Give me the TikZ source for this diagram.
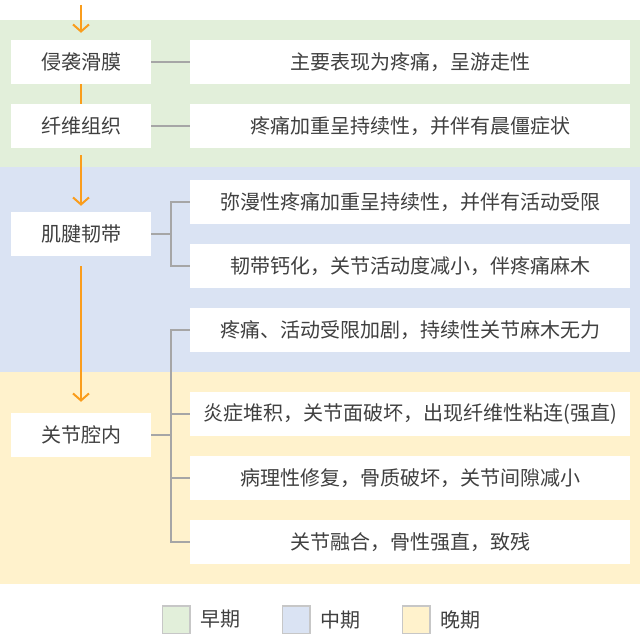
\documentclass[tikz,border=0pt]{standalone}
\usepackage{fontspec}
\setmainfont{Noto Sans CJK SC}
\usetikzlibrary{arrows.meta,positioning}
\definecolor{early}{HTML}{E2EFDA}
\definecolor{middle}{HTML}{DAE3F3}
\definecolor{late}{HTML}{FFF2CC}
\definecolor{flow}{HTML}{FA9D1C}
\definecolor{link}{HTML}{A6A6A6}
\definecolor{txt}{HTML}{404040}

\begin{document}
\begin{tikzpicture}[x=1pt,y=-1pt,
  every node/.style={font=\fontsize{20}{24}\selectfont, text=txt},
  stage/.style={fill=white, minimum width=140pt, minimum height=44pt, inner sep=0pt},
  sign/.style={fill=white, minimum width=440pt, minimum height=44pt, inner sep=0pt},
  flowline/.style={flow, line width=2pt},
  flowarrow/.style={flowline, -{Straight Barb[length=7pt,width=16pt]}},
  linkline/.style={link, line width=2pt},
  legbox/.style={draw=black!22, line width=1.5pt, minimum size=27.5pt, inner sep=0pt}]

\useasboundingbox (0,0) rectangle (640,636);

% bands
\fill [early] (0,20) rectangle (640,167);
\fill [middle] (0,167) rectangle (640,372);
\fill [late] (0,372) rectangle (640,584);

% stages
\node [stage] (s1) at (81,62) {侵袭滑膜};
\node [stage] (s2) at (81,126) {纤维组织};
\node [stage] (s3) at (81,234) {肌腱韧带};
\node [stage] (s4) at (81,435) {关节腔内};

% signs
\node [sign] (r1) at (410,62) {主要表现为疼痛，呈游走性};
\node [sign] (r2) at (410,126) {疼痛加重呈持续性，并伴有晨僵症状};
\node [sign] (r3) at (410,202) {弥漫性疼痛加重呈持续性，并伴有活动受限};
\node [sign] (r4) at (410,266) {韧带钙化，关节活动度减小，伴疼痛麻木};
\node [sign] (r5) at (410,330) {疼痛、活动受限加剧，持续性关节麻木无力};
\node [sign] (r6) at (410,414) {炎症堆积，关节面破坏，出现纤维性粘连(强直)};
\node [sign] (r7) at (410,478) {病理性修复，骨质破坏，关节间隙减小};
\node [sign] (r8) at (410,542) {关节融合，骨性强直，致残};

% flow
\coordinate (top) at (81,5);
\draw [flowarrow, shorten >=7pt] (top) -- (s1);
\draw [flowline] (s1) -- (s2);
\draw [flowarrow, shorten <=7pt, shorten >=6pt] (s2) -- (s3);
\draw [flowarrow, shorten <=10pt, shorten >=11pt] (s3) -- (s4);

% links
\draw [linkline] (s1) -- (r1);
\draw [linkline] (s2) -- (r2);
\draw [linkline] (s3.east) -- ++(20,0) coordinate (b3) |- (r3.west);
\draw [linkline] (b3) |- (r4.west);
\draw [linkline] (s4.east) -- ++(20,0) coordinate (b4);
\foreach \r in {r5,r6,r7,r8}
  \draw [linkline] (b4) |- (\r.west);

% legend
\foreach \c/\t [count=\i] in {early/早期, middle/中期, late/晚期}
{
\node [legbox, fill=\c] (l\i) at (56+120*\i,619.5) {};
\node [right=10pt of l\i, inner sep=0pt] (t\i) {\t};
}

\end{tikzpicture}
\end{document}
